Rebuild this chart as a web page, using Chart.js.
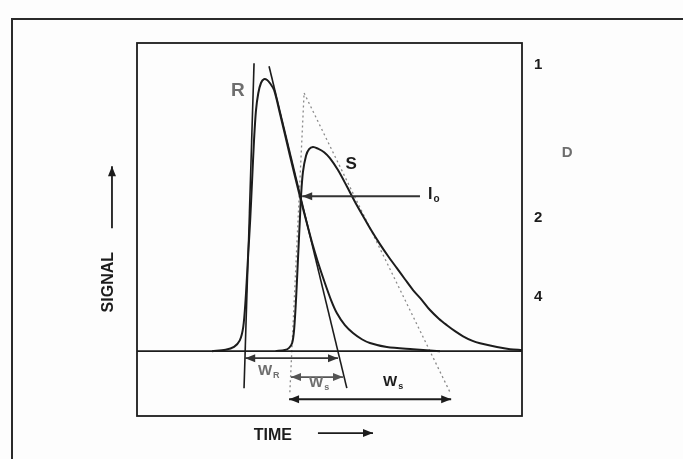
<!DOCTYPE html>
<html>
<head>
<meta charset="utf-8">
<title>Signal vs time</title>
<script src="https://cdn.jsdelivr.net/npm/chart.js@4.4.1/dist/chart.umd.min.js"></script>
<style>
  html, body { margin: 0; padding: 0; background: #fdfdfd; }
  #wrap { width: 683px; height: 459px; }
</style>
</head>
<body>
<div id="wrap"><canvas id="chart" width="683" height="459"></canvas></div>
<script>
// curve R (reference)
const timeR = [19.5, 23.0, 25.2, 26.7, 27.6, 28.2, 28.8, 29.4, 29.9, 30.4, 30.9, 31.5, 32.2, 33.0, 33.8, 34.6, 35.6,
               37.1, 39.7, 42.3, 43.9, 45.5, 47.0, 48.8, 50.4, 51.9, 54.0, 56.1, 58.4, 60.5, 64.9, 71.7, 78.7];
const signalR = [0, 0.5, 1.6, 4.0, 9.0, 18.9, 33.7, 48.5, 63.3, 78.1, 89.0, 95.4, 99.2, 100.6, 100.3, 99.0, 96.6,
                 88.1, 72.5, 57.3, 48.5, 40.0, 32.9, 25.2, 18.9, 14.1, 9.6, 6.7, 4.4, 3.0, 1.5, 0.7, 0];

// curve S (sample)
const timeS = [36.0, 38.4, 39.5, 40.3, 40.8, 41.3, 41.8, 42.3, 42.6, 43.1, 43.9, 44.7, 45.7, 47.0, 48.6, 50.1, 52.2, 54.5,
               56.6, 58.7, 60.8, 63.1, 65.2, 67.5, 69.6, 71.7, 74.0, 76.1, 78.4, 80.5, 82.6, 84.7, 87.0, 89.1, 93.5, 96.9, 100];
const signalS = [0, 0.4, 1.2, 3.0, 7.8, 18.9, 33.7, 48.5, 57.3, 66.2, 72.3, 74.7, 75.5, 74.9, 73.6, 71.4, 67.0, 61.0,
                 55.3, 50.0, 44.8, 39.6, 35.2, 30.7, 26.6, 22.6, 18.9, 15.2, 12.0, 9.6, 7.4, 5.5, 3.9, 2.9, 1.5, 0.7, 0.4];

// tangent lines [x1, y1, x2, y2]
const tangentRiseR = [30.4, 106.5, 27.8, -13.7];
const tangentFallR = [34.3, 105.4, 54.5, -13.7];
const tangentRiseS = [39.7, -15.2, 43.4, 95.5];
const tangentFallS = [43.4, 95.5, 81.3, -15.2];

// widths, read at the arrow heights: [from, to, level]
const widthR = [28.1, 52.2, -2.6];
const widthO = [40.0, 53.5, -9.6];
const widthS = [39.5, 81.6, -17.8];
const arrowI0 = [73.5, 42.9, 57.3];

// right hand tick labels and their levels
const sideLabels = ['1', '2', '4'];
const sideLevels = [105.8, 49.2, 20.0];

function pts(xs, ys) {
    return xs.map((x, i) => ({ x: x, y: ys[i] }));
}
function seg(s) {
    return [{ x: s[0], y: s[1] }, { x: s[2], y: s[3] }];
}

const INK = '#1c1c1c';
const GREY = '#6e6e6e';
const FONT = '"Liberation Sans", Arial, Helvetica, sans-serif';

function head(ctx, x, y, dir) {
    // dir: angle the arrow points to
    const len = 10, half = 4;
    ctx.save();
    ctx.translate(x, y);
    ctx.rotate(dir);
    ctx.beginPath();
    ctx.moveTo(0, 0);
    ctx.lineTo(-len, -half);
    ctx.lineTo(-len, half);
    ctx.closePath();
    ctx.fill();
    ctx.restore();
}

function arrow(ctx, x1, y1, x2, y2, both, color) {
    ctx.save();
    ctx.strokeStyle = color;
    ctx.fillStyle = color;
    ctx.lineWidth = 1.8;
    ctx.beginPath();
    ctx.moveTo(x1, y1);
    ctx.lineTo(x2, y2);
    ctx.stroke();
    const a = Math.atan2(y2 - y1, x2 - x1);
    head(ctx, x2, y2, a);
    if (both) head(ctx, x1, y1, a + Math.PI);
    ctx.restore();
}

function label(ctx, txt, sub, x, y, size, color, align) {
    ctx.save();
    ctx.fillStyle = color;
    ctx.font = 'bold ' + size + 'px ' + FONT;
    ctx.textAlign = align || 'left';
    ctx.textBaseline = 'middle';
    ctx.fillText(txt, x, y);
    if (sub) {
        const w = ctx.measureText(txt).width;
        const left = (align === 'center') ? x + w / 2 : x + w;
        ctx.font = 'bold ' + Math.round(size * 0.62) + 'px ' + FONT;
        ctx.textAlign = 'left';
        ctx.fillText(sub, left + 1, y + size * 0.3);
    }
    ctx.restore();
}

const decor = {
    id: 'decor',
    beforeDraw(chart) {
        const ctx = chart.ctx;
        ctx.save();
        ctx.fillStyle = '#fdfdfd';
        ctx.fillRect(0, 0, chart.width, chart.height);
        // outer frame of the figure
        ctx.strokeStyle = '#2a2a2a';
        ctx.lineWidth = 2;
        ctx.beginPath();
        ctx.moveTo(12, chart.height);
        ctx.lineTo(12, 19);
        ctx.lineTo(chart.width, 19);
        ctx.stroke();
        ctx.restore();
    },
    afterDraw(chart) {
        const ctx = chart.ctx;
        const xs = chart.scales.x, ys = chart.scales.y;
        const X = v => xs.getPixelForValue(v);
        const Y = v => ys.getPixelForValue(v);
        const area = chart.chartArea;

        ctx.save();
        ctx.strokeStyle = INK;
        ctx.lineWidth = 1.8;
        ctx.strokeRect(area.left, area.top, area.right - area.left, area.bottom - area.top);
        ctx.restore();

        arrow(ctx, X(widthR[0]), Y(widthR[2]), X(widthR[1]), Y(widthR[2]), true, '#333');
        arrow(ctx, X(widthO[0]), Y(widthO[2]), X(widthO[1]), Y(widthO[2]), true, '#555');
        arrow(ctx, X(widthS[0]), Y(widthS[2]), X(widthS[1]), Y(widthS[2]), true, INK);
        arrow(ctx, X(arrowI0[0]), Y(arrowI0[2]), X(arrowI0[1]), Y(arrowI0[2]), false, '#333');

        label(ctx, 'R', null, X(26.2), Y(96.2), 19, GREY, 'center');
        label(ctx, 'S', null, X(55.6), Y(69.2), 17, INK, 'center');
        label(ctx, 'I', 'o', X(75.6), Y(58.0), 16, INK, 'left');
        label(ctx, 'W', 'R', X(31.4), Y(-7.4), 15, GREY, 'left');
        label(ctx, 'W', 's', X(44.7), Y(-11.8), 15, GREY, 'left');
        label(ctx, 'W', 's', X(63.9), Y(-11.5), 15, INK, 'left');

        sideLabels.forEach((t, i) => label(ctx, t, null, X(104.2), Y(sideLevels[i]), 15, INK, 'center'));
        label(ctx, 'D', null, X(111.7), Y(73.3), 15, GREY, 'center');

        // axis names with their arrows
        ctx.save();
        ctx.translate(X(-7.5), Y(25.5));
        ctx.rotate(-Math.PI / 2);
        label(ctx, 'SIGNAL', null, 0, 0, 16, INK, 'center');
        ctx.restore();
        arrow(ctx, X(-6.5), Y(45.5), X(-6.5), Y(68.4), false, INK);

        label(ctx, 'TIME', null, X(35.3), Y(-31.1), 16, INK, 'center');
        arrow(ctx, X(47.0), Y(-30.3), X(61.3), Y(-30.3), false, INK);
    }
};

const lineStyle = {
    showLine: true,
    pointRadius: 0,
    borderColor: INK,
    borderWidth: 2,
    fill: false,
    clip: false,
    tension: 0
};

new Chart(document.getElementById('chart'), {
    type: 'scatter',
    data: {
        datasets: [
            Object.assign({ label: 'baseline', data: [{ x: 0, y: 0 }, { x: 100, y: 0 }] }, lineStyle, { borderWidth: 1.8 }),
            Object.assign({ label: 'R', data: pts(timeR, signalR) }, lineStyle, { tension: 0.3 }),
            Object.assign({ label: 'S', data: pts(timeS, signalS) }, lineStyle, { tension: 0.3 }),
            Object.assign({ label: 'R rise', data: seg(tangentRiseR) }, lineStyle, { borderWidth: 1.6 }),
            Object.assign({ label: 'R fall', data: seg(tangentFallR) }, lineStyle, { borderWidth: 1.6 }),
            Object.assign({ label: 'S rise', data: seg(tangentRiseS) }, lineStyle,
                { borderWidth: 1.3, borderColor: '#8a8a8a', borderDash: [2, 3] }),
            Object.assign({ label: 'S fall', data: seg(tangentFallS) }, lineStyle,
                { borderWidth: 1.3, borderColor: '#8a8a8a', borderDash: [2, 3] })
        ]
    },
    options: {
        responsive: false,
        animation: false,
        devicePixelRatio: 1,
        layout: { padding: { left: 137, right: 161, top: 43, bottom: 43 } },
        scales: {
            x: { type: 'linear', min: 0, max: 100, display: false },
            y: { type: 'linear', min: -24, max: 114, display: false }
        },
        plugins: {
            legend: { display: false },
            tooltip: { enabled: false }
        }
    },
    plugins: [decor]
});
</script>
</body>
</html>
